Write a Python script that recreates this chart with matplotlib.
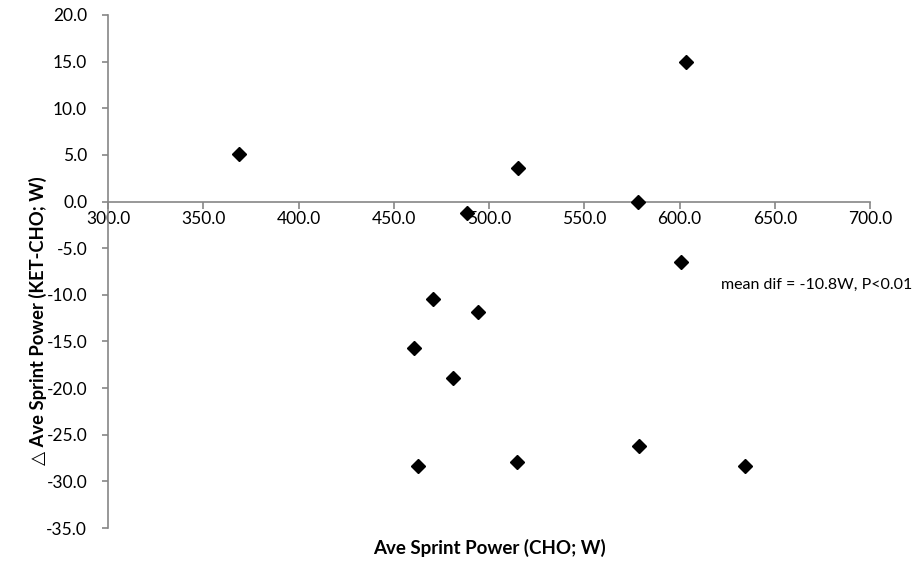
import matplotlib
matplotlib.use("Agg")
import matplotlib.pyplot as plt

plt.rcParams['font.family'] = ['Lato', 'DejaVu Sans']

# Ave sprint power on CHO (W) vs. difference KET-CHO (W)
cho_power = [368.6, 488.3, 515.4, 578.0, 603.3, 600.6, 470.4,
             494.1, 460.5, 480.9, 462.9, 514.8, 578.7, 634.4]
delta_power = [5.1, -1.2, 3.6, 0.0, 15.0, -6.5, -10.4,
               -11.8, -15.7, -18.9, -28.3, -27.9, -26.2, -28.4]
x_ticks = [300, 350, 400, 450, 500, 550, 600, 650, 700]
y_ticks = [20, 15, 10, 5, 0, -5, -10, -15, -20, -25, -30, -35]

GREY = '#868686'

fig = plt.figure(figsize=(9.19, 5.61), dpi=100)
ax = fig.add_axes([0.1175, 0.0588, 0.8293, 0.9145])

ax.plot(cho_power, delta_power, linestyle='none', marker='D',
        markersize=7.5, color='black', clip_on=False, zorder=3)

ax.set_xlim(300, 700)
ax.set_ylim(-35, 20)
ax.set_xticks(x_ticks)
ax.set_xticklabels([f'{v:.1f}' for v in x_ticks])
ax.set_yticks(y_ticks)
ax.set_yticklabels([f'{v:.1f}' for v in y_ticks])

ax.spines['top'].set_visible(False)
ax.spines['right'].set_visible(False)
ax.spines['bottom'].set_position(('data', 0))
for s in ['left', 'bottom']:
    ax.spines[s].set_color(GREY)
    ax.spines[s].set_linewidth(1.2)

ax.tick_params(axis='x', direction='out', length=5, width=1.2, color=GREY,
               pad=2, labelsize=12.5)
ax.tick_params(axis='y', direction='out', length=4, width=1.2, color=GREY,
               pad=11, labelsize=12.5)

ax.text(622, -8.9, 'mean dif = -10.8W, P<0.01', fontsize=11.5,
        va='center', ha='left', clip_on=False)

fig.text(0.5322, 0.023, 'Ave Sprint Power (CHO; W)', fontsize=13.5,
         fontweight='bold', ha='center', va='center')
fig.text(0.041, 0.428, '\u25b3 Ave Sprint Power (KET-CHO; W)', fontsize=13.2,
         fontweight='bold', ha='center', va='center', rotation=90)

fig.savefig('out.png', dpi=100)
